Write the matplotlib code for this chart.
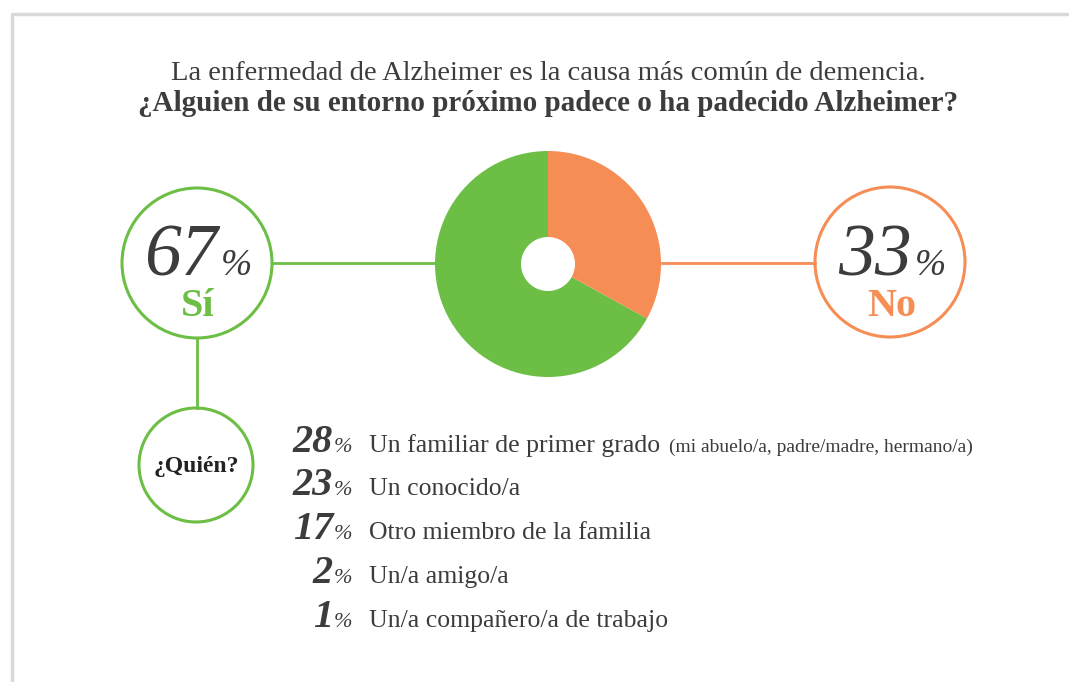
import matplotlib.pyplot as plt
from matplotlib.patches import Circle

W, H = 1069, 682

# data
answers = ["Sí", "No"]
shares = [67, 33]
who_pct = ["28", "23", "17", "2", "1"]
who_label = ["Un familiar de primer grado", "Un conocido/a", "Otro miembro de la familia",
             "Un/a amigo/a", "Un/a compañero/a de trabajo"]
who_note = ["(mi abuelo/a, padre/madre, hermano/a)", "", "", "", ""]

green = "#6cbe45"
orange = "#f58d55"
dark = "#3c3c3c"
plt.rcParams["font.family"] = ["Liberation Serif", "DejaVu Serif"]

fig = plt.figure(figsize=(W / 100, H / 100), dpi=100)
ax = fig.add_axes([0, 0, 1, 1])


def Y(y):
    return H - y


# donut
ax.pie(shares, colors=[green, orange], startangle=90, counterclock=True,
       center=(548, Y(264)), radius=113,
       wedgeprops=dict(width=86, linewidth=0))

ax.set_xlim(0, W)
ax.set_ylim(0, H)
ax.set_aspect("equal")
ax.axis("off")

# frame lines
ax.plot([12, 12, W], [0, Y(14), Y(14)], color="#d9d9d9", lw=2.5, solid_capstyle="butt")

# title
ax.text(548, Y(80), "La enfermedad de Alzheimer es la causa más común de demencia.",
        ha="center", va="baseline", fontsize=20.5, color=dark)
ax.text(548, Y(111), "¿Alguien de su entorno próximo padece o ha padecido Alzheimer?",
        ha="center", va="baseline", fontsize=21, fontweight="bold", color=dark)

# connectors
ax.plot([272, 436], [Y(263), Y(263)], color=green, lw=2)
ax.plot([662, 815], [Y(263), Y(263)], color=orange, lw=2)
ax.plot([197, 197], [Y(338), Y(408)], color=green, lw=2)

# bubbles
for cx, cy, r, col in [(197, 263, 75, green), (890, 262, 75, orange), (196, 465, 57, green)]:
    ax.add_patch(Circle((cx, Y(cy)), r, facecolor="white", edgecolor=col, lw=2.2))

for cx, val, lab, col in [(197, shares[0], answers[0], green), (891, shares[1], answers[1], orange)]:
    ax.text(cx + 21, Y(275), str(val), ha="right", va="baseline", fontsize=53,
            style="italic", color=dark)
    ax.text(cx + 24, Y(275), "%", ha="left", va="baseline", fontsize=27,
            style="italic", color=dark)
    ax.text(cx + 1, Y(316), lab, ha="center", va="baseline", fontsize=29,
            fontweight="bold", color=col)

ax.text(196, Y(472), "¿Quién?", ha="center", va="baseline", fontsize=17,
        fontweight="bold", color="#222222")

# list
rows = [452, 495, 539, 583, 627]
for y, p, lab, note in zip(rows, who_pct, who_label, who_note):
    ax.text(333, Y(y), p, ha="right", va="baseline", fontsize=29,
            fontweight="bold", style="italic", color=dark)
    ax.text(334, Y(y), "%", ha="left", va="baseline", fontsize=16,
            style="italic", color=dark)
    t = ax.text(369, Y(y), lab, ha="left", va="baseline", fontsize=18.5, color=dark)
    if note:
        fig.canvas.draw()
        bb = t.get_window_extent()
        ax.text(bb.x1 + 9, Y(y), note, ha="left", va="baseline", fontsize=14,
                color=dark)

fig.savefig("out.png", dpi=100, facecolor="white")
